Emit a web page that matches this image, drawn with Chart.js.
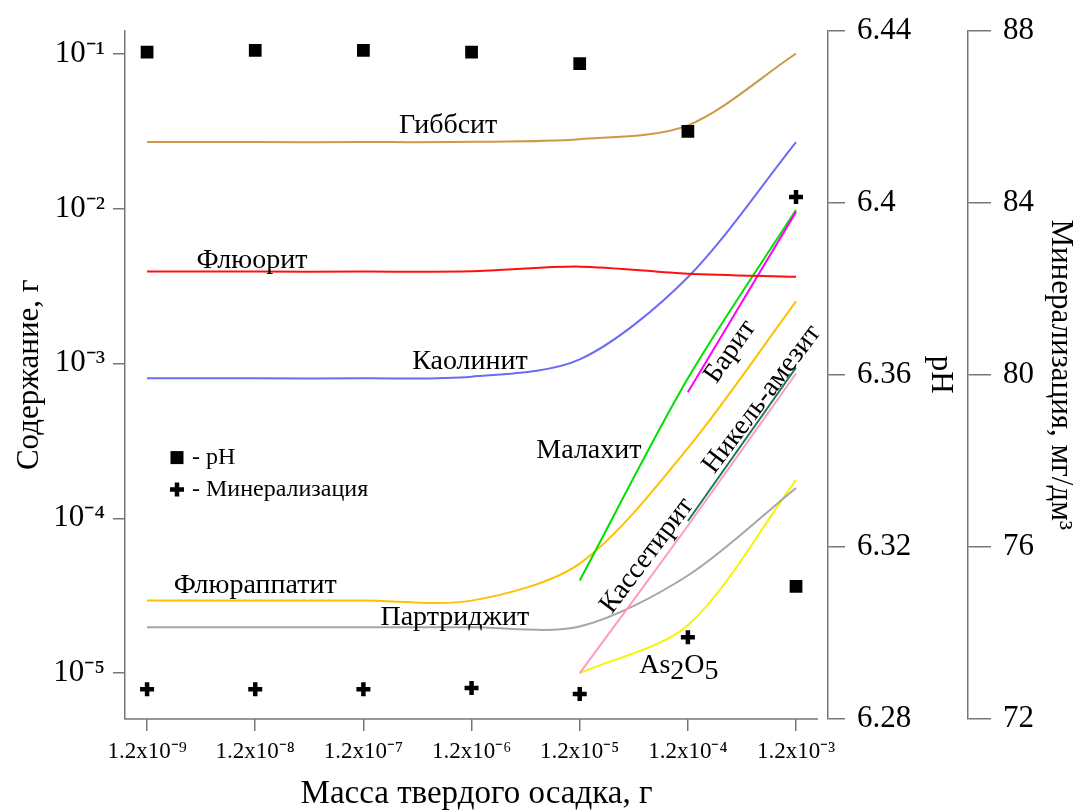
<!DOCTYPE html>
<html>
<head>
<meta charset="utf-8">
<script src="https://cdn.jsdelivr.net/npm/chart.js@4.4.0/dist/chart.umd.min.js"></script>
<style>
  html, body { margin: 0; padding: 0; background: #fff; }
  #wrap { width: 1081px; height: 812px; }
</style>
</head>
<body>
<div id="wrap"><canvas id="chart" width="1081" height="812"></canvas></div>
<script>
// масса твердого осадка, г
const masses = [1.2e-9, 1.2e-8, 1.2e-7, 1.2e-6, 1.2e-5, 1.2e-4, 1.2e-3];
const massLabels = ['1.2x10⁻⁹', '1.2x10⁻⁸', '1.2x10⁻⁷', '1.2x10⁻⁶', '1.2x10⁻⁵', '1.2x10⁻⁴', '1.2x10⁻³'];
const contentTicks = [1e-5, 1e-4, 1e-3, 1e-2, 1e-1];
const contentLabels = ['10⁻⁵', '10⁻⁴', '10⁻³', '10⁻²', '10⁻¹'];
const phTicks = [6.28, 6.32, 6.36, 6.4, 6.44];
const mineralTicks = [72, 76, 80, 84, 88];

// содержание минералов, г (по всем точкам)
const gibbsite = [0.0268, 0.0268, 0.0268, 0.0269, 0.0280, 0.0344, 0.100];
const fluorite = [0.00391, 0.00391, 0.00391, 0.00393, 0.00421, 0.00379, 0.00362];
const kaolinite = [8.0e-4, 8.0e-4, 8.0e-4, 8.2e-4, 1.06e-3, 3.6e-3, 0.0268];
const fluorapatite = [2.94e-5, 2.94e-5, 2.94e-5, 2.94e-5, 5.1e-5, 2.84e-4, 2.51e-3];
const partridgeite = [1.98e-5, 1.98e-5, 1.98e-5, 1.98e-5, 2.0e-5, 4.27e-5, 1.57e-4];
// только последние точки (с 1.2x10^-5)
const malachite = [3.96e-5, 8.0e-4, 9.8e-3];
const cassiterite = [1.0e-5, 8.95e-5, 8.6e-4];
const as2o5 = [1.0e-5, 2.04e-5, 1.77e-4];
// с 1.2x10^-4
const barite = [6.5e-4, 9.5e-3];
const nickelAmesite = [9.6e-5, 9.4e-4];

// pH и минерализация
const ph = [6.435, 6.4354, 6.4354, 6.435, 6.4323, 6.4166, 6.3108];
const mineral = [72.69, 72.69, 72.69, 72.72, 72.58, 73.90, 84.13];

// подписи кривых: x - масса, y - содержание, rot - угол
const curveLabels = [
  { text: 'Гиббсит', x: 7.3e-7, y: 0.034, rot: 0 },
  { text: 'Флюорит', x: 1.12e-8, y: 4.6e-3, rot: 0 },
  { text: 'Каолинит', x: 1.16e-6, y: 1.03e-3, rot: 0 },
  { text: 'Малахит', x: 1.46e-5, y: 2.72e-4, rot: 0 },
  { text: 'Флюраппатит', x: 1.2e-8, y: 3.68e-5, rot: 0 },
  { text: 'Партриджит', x: 8.4e-7, y: 2.29e-5, rot: 0 },
  { text: 'Барит', x: 2.95e-4, y: 1.19e-3, rot: -55 },
  { text: 'Никель-амезит', x: 5.8e-4, y: 5.86e-4, rot: -53 },
  { text: 'Кассетирит', x: 5.03e-5, y: 5.74e-5, rot: -53 },
  { text: 'As_2O_5', x: 9.9e-5, y: 1.12e-5, rot: 0 }
];

const serif = '"Liberation Serif", "Times New Roman", serif';
const axisColor = '#777';
Chart.defaults.font.family = serif;
Chart.defaults.color = '#000';

function pts(values) {
  const off = masses.length - values.length;
  return values.map((v, i) => ({ x: masses[off + i], y: v }));
}

function curve(label, values, color) {
  return {
    label: label,
    data: pts(values),
    yAxisID: 'y',
    borderColor: color,
    borderWidth: 2,
    pointRadius: 0,
    tension: 0.3,
    fill: false
  };
}

const annotate = {
  id: 'annotate',
  afterDatasetsDraw(chart) {
    const { ctx, chartArea } = chart;
    const xs = chart.scales.x, ys = chart.scales.y;
    ctx.save();

    // нижняя ось обрывается чуть левее оси pH
    ctx.strokeStyle = axisColor;
    ctx.lineWidth = 1.5;
    ctx.beginPath();
    ctx.moveTo(chartArea.left, chartArea.bottom);
    ctx.lineTo(chartArea.right - 10, chartArea.bottom);
    ctx.stroke();

    ctx.fillStyle = '#000';
    ctx.font = '28px ' + serif;
    ctx.textBaseline = 'middle';
    curveLabels.forEach(l => {
      ctx.save();
      ctx.translate(xs.getPixelForValue(l.x), ys.getPixelForValue(l.y));
      ctx.rotate(l.rot * Math.PI / 180);
      if (l.text.indexOf('_') >= 0) {
        // нижние индексы
        const parts = [];
        l.text.split('_').forEach((p, i) => {
          if (i === 0) parts.push({ t: p, sub: false });
          else { parts.push({ t: p[0], sub: true }); if (p.length > 1) parts.push({ t: p.slice(1), sub: false }); }
        });
        const w = parts.reduce((s, p) => s + ctx.measureText(p.t).width, 0);
        let cx = -w / 2;
        ctx.textAlign = 'left';
        parts.forEach(p => {
          ctx.fillText(p.t, cx, p.sub ? 6 : 0);
          cx += ctx.measureText(p.t).width;
        });
      } else {
        ctx.textAlign = 'center';
        ctx.fillText(l.text, 0, 0);
      }
      ctx.restore();
    });

    // легенда
    const lx = chartArea.left + 52, ly = chartArea.top + 427;
    ctx.fillRect(lx - 6.5, ly - 6.5, 13, 13);
    ctx.strokeStyle = '#000';
    ctx.lineWidth = 4.5;
    ctx.beginPath();
    ctx.moveTo(lx - 7, ly + 32); ctx.lineTo(lx + 7, ly + 32);
    ctx.moveTo(lx, ly + 25); ctx.lineTo(lx, ly + 39);
    ctx.stroke();
    ctx.font = '24px ' + serif;
    ctx.textAlign = 'left';
    ctx.fillText('- pH', lx + 15, ly);
    ctx.fillText('- Минерализация', lx + 15, ly + 32);
    ctx.restore();
  }
};

new Chart(document.getElementById('chart'), {
  type: 'line',
  data: {
    datasets: [
      {
        label: 'pH',
        data: pts(ph),
        yAxisID: 'ph',
        showLine: false,
        pointStyle: 'rect',
        pointRadius: 9,
        pointBackgroundColor: '#000',
        pointBorderWidth: 0
      },
      {
        label: 'Минерализация',
        data: pts(mineral),
        yAxisID: 'mineral',
        showLine: false,
        pointStyle: 'cross',
        pointRadius: 7,
        pointBorderColor: '#000',
        pointBorderWidth: 4.5
      },
      curve('Гиббсит', gibbsite, '#cc9944'),
      curve('Флюорит', fluorite, '#ff1010'),
      curve('Каолинит', kaolinite, '#6b6bf7'),
      curve('Барит', barite, '#ff00ff'),
      curve('Малахит', malachite, '#00e000'),
      curve('Кассетирит', cassiterite, '#ff99c8'),
      curve('Никель-амезит', nickelAmesite, '#1a7a4a'),
      curve('Флюраппатит', fluorapatite, '#ffc000'),
      curve('Партриджит', partridgeite, '#a6a6a6'),
      curve('As2O5', as2o5, '#f5f500')
    ]
  },
  options: {
    responsive: false,
    animation: false,
    devicePixelRatio: 1,
    events: [],
    layout: { padding: { top: 28, left: 0, right: 0, bottom: 0 } },
    plugins: { legend: { display: false }, tooltip: { enabled: false } },
    scales: {
      x: {
        type: 'logarithmic',
        position: 'bottom',
        min: 7.5e-10,
        max: 2.37e-3,
        afterBuildTicks: s => { s.ticks = masses.map(v => ({ value: v })); },
        afterFit: s => { s.height = 93; },
        ticks: { callback: (v, i) => massLabels[i], font: { size: 23 }, padding: 7, maxRotation: 0, autoSkip: false },
        grid: { drawOnChartArea: false, drawTicks: true, tickLength: 12, color: axisColor, lineWidth: 1.5 },
        border: { display: false },
        title: { display: true, text: 'Масса твердого осадка, г', font: { size: 33 }, padding: { top: 0, bottom: -2 } }
      },
      y: {
        type: 'logarithmic',
        position: 'left',
        min: 5.06e-6,
        max: 0.1406,
        afterBuildTicks: s => { s.ticks = contentTicks.map(v => ({ value: v })); },
        afterFit: s => { s.width = 125; },
        ticks: { callback: (v, i) => contentLabels[i], font: { size: 31 }, padding: 8 },
        grid: { drawOnChartArea: false, drawTicks: true, tickLength: 12, color: axisColor, lineWidth: 1.5 },
        border: { display: true, color: axisColor, width: 1.5 },
        title: { display: true, text: 'Содержание, г', font: { size: 31 }, padding: { top: 11, bottom: 0 } }
      },
      ph: {
        type: 'linear',
        position: 'right',
        weight: 0,
        min: 6.28,
        max: 6.44,
        afterBuildTicks: s => { s.ticks = phTicks.map(v => ({ value: v })); },
        afterFit: s => { s.width = 140; },
        ticks: { callback: (v, i) => String(phTicks[i]), font: { size: 31 }, padding: 12 },
        grid: { drawOnChartArea: false, drawTicks: true, tickLength: 17, color: axisColor, lineWidth: 1.5 },
        border: { display: true, color: axisColor, width: 1.5 },
        title: { display: true, text: 'pH', font: { size: 31 }, padding: { top: 9, bottom: 0 } }
      },
      mineral: {
        type: 'linear',
        position: 'right',
        weight: 1,
        min: 72,
        max: 88,
        afterBuildTicks: s => { s.ticks = mineralTicks.map(v => ({ value: v })); },
        afterFit: s => { s.width = 113; },
        ticks: { callback: (v, i) => String(mineralTicks[i]), font: { size: 31 }, padding: 12 },
        grid: { drawOnChartArea: false, drawTicks: true, tickLength: 23, color: axisColor, lineWidth: 1.5 },
        border: { display: true, color: axisColor, width: 1.5 },
        title: { display: true, text: 'Минерализация, мг/дм³', font: { size: 31 }, padding: { top: 2, bottom: 0 } }
      }
    }
  },
  plugins: [annotate]
});
</script>
</body>
</html>
